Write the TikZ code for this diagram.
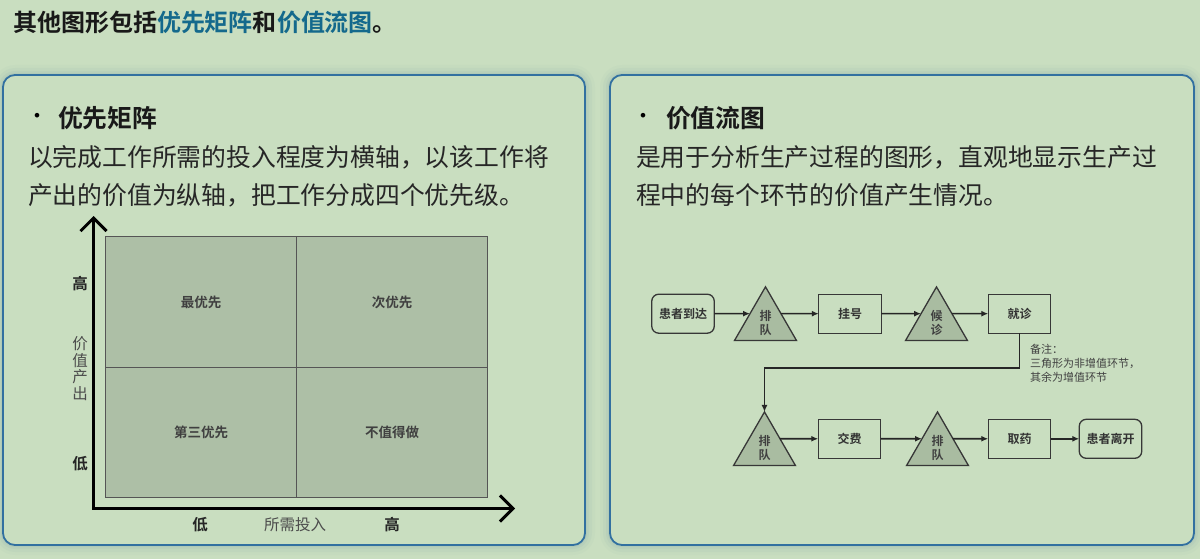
\documentclass[tikz,border=0pt]{standalone}
\usepackage{fontspec}
\setmainfont{Noto Sans CJK SC}[BoldFont={Noto Sans CJK SC Bold}]
\usepackage{xcolor}
\usepackage{tikz}
\usetikzlibrary{shapes.geometric, arrows.meta}

\definecolor{bgGreen}{RGB}{201,222,192}
\definecolor{shadeBlue}{RGB}{110,150,165}
\definecolor{panelBlue}{RGB}{50,112,160}
\definecolor{titleBlue}{RGB}{20,105,140}
\definecolor{cellFill}{RGB}{173,191,166}
\definecolor{triFill}{RGB}{169,188,161}
\definecolor{lineGray}{RGB}{55,55,55}

\begin{document}
\begin{tikzpicture}[x=1pt, y=-1pt,
		    every node/.style={inner sep=0pt, outer sep=0pt},
		    panel/.style={draw=panelBlue, line width=1.8pt, rounded corners=12pt, fill=bgGreen},
		    body/.style={anchor=west, font=\fontsize{24.8}{24.8}\selectfont, text=black!85},
		    head/.style={anchor=west, font=\fontsize{24.8}{24.8}\selectfont\bfseries, text=black!90}
		]
		\tikzset{
		    cell/.style={draw=lineGray!85, line width=0.9pt, fill=cellFill, minimum width=191.3pt, minimum height=130.8pt, font=\fontsize{13.5}{13.5}\selectfont\bfseries, text=black!75},
		    axis/.style={line width=3pt, {Straight Barb[length=13pt, width=26pt]}-{Straight Barb[length=13pt, width=26pt]}},
		    axlabel/.style={font=\fontsize{15.5}{16.8}\selectfont\bfseries, text=black!85},
		    axname/.style={font=\fontsize{15.5}{16.8}\selectfont, text=black!70, align=center},
		    procbox/.style={draw=lineGray, line width=1.3pt, minimum width=62.5pt, minimum height=39pt, font=\fontsize{12}{12}\selectfont\bfseries, text=black!80},
		    endbox/.style={procbox, rounded corners=7pt},
		    waitq/.style={regular polygon, regular polygon sides=3, minimum size=71pt, draw=lineGray, line width=1.3pt, fill=triFill, font=\fontsize{12}{14}\selectfont\bfseries, text=black!75, align=center},
		    flow/.style={-{Latex[length=7pt, width=6pt]}, line width=1.6pt, draw=black!85},
		    remark/.style={anchor=north west, align=left, font=\fontsize{11}{14}\selectfont, text=black!75}
		}
		% background and panels
		\fill[bgGreen] (0,0) rectangle (1200,559);
		\useasboundingbox (0,0) rectangle (1200,559);
		\foreach \d/\o in {10/0.04, 7/0.06, 4/0.08, 2/0.10} {
		    \fill[shadeBlue, opacity=\o, rounded corners=12pt+\d pt] (3-\d,75-\d) rectangle (585+\d,545+\d);
		    \fill[shadeBlue, opacity=\o, rounded corners=12pt+\d pt] (610-\d,75-\d) rectangle (1194+\d,545+\d);
		}
		\draw[panel] (3,75) rectangle (585,545);
		\draw[panel] (610,75) rectangle (1194,545);

		% title
		\node[anchor=west, font=\fontsize{24}{24}\selectfont\bfseries, text=black!90] (title) at (13,22)
		    {其他图形包括\textcolor{titleBlue}{优先矩阵}和\textcolor{titleBlue}{价值流图}。};

		% left panel text
		\node[anchor=west, font=\fontsize{18}{18}\selectfont\bfseries] (dotL) at (28,118) {•};
		\node[head] (headL) at (58,118) {优先矩阵};
		\node[body] (lineL1) at (28,157) {以完成工作所需的投入程度为横轴，以该工作将};
		\node[body] (lineL2) at (28,195) {产出的价值为纵轴，把工作分成四个优先级。};

		% priority matrix
		\node[cell] (best) at (201,302.1) {最优先};
		\node[cell] (second) at (392.2,302.1) {次优先};
		\node[cell] (third) at (201,432.5) {第三优先};
		\node[cell] (skip) at (392.2,432.5) {不值得做};
		\coordinate (origin) at (93.5,508.5);
		\coordinate (ytip) at (93.5,216);
		\coordinate (xtip) at (515,508.5);
		\draw[axis] (ytip) -- (origin) -- (xtip);
		\node[axlabel] (yhigh) at (80,283.5) {高};
		\node[axname] (yname) at (80,368.5) {价\\值\\产\\出};
		\node[axlabel] (ylow) at (80,463.5) {低};
		\node[axlabel] (xlow) at (200,525) {低};
		\node[axname] (xname) at (295,525) {所需投入};
		\node[axlabel] (xhigh) at (392,525) {高};

		% right panel text
		\node[anchor=west, font=\fontsize{18}{18}\selectfont\bfseries] (dotR) at (634,118) {•};
		\node[head] (headR) at (666,118) {价值流图};
		\node[body] (lineR1) at (636,157) {是用于分析生产过程的图形，直观地显示生产过};
		\node[body] (lineR2) at (636,195) {程中的每个环节的价值产生情况。};

		% value stream map
		\node[endbox] (arrive) at (683,313.7) {患者到达};
		\node[waitq] (queue1) at (765.5,322.6) {排\\队};
		\node[procbox] (register) at (850,313.7) {挂号};
		\node[waitq] (queue2) at (936.5,322.6) {候\\诊};
		\node[procbox] (visit) at (1019.5,313.7) {就诊};
		\node[waitq] (queue3) at (764.5,447.7) {排\\队};
		\node[procbox] (pay) at (849.5,438.8) {交费};
		\node[waitq] (queue4) at (937.5,447.7) {排\\队};
		\node[procbox] (drug) at (1019.5,438.8) {取药};
		\node[endbox] (leave) at (1110.5,438.8) {患者离开};
		\node[remark] (note) at (1030,344) {备注：\\三角形为非增值环节，\\其余为增值环节};

		\draw[flow] (arrive) -- (queue1.side 1);
		\draw[flow] (queue1.side 3) -- (register);
		\draw[flow] (register) -- (queue2.side 1);
		\draw[flow] (queue2.side 3) -- (visit);
		\draw[flow] (visit.south) -- ++(0,35) -| (queue3.corner 1);
		\draw[flow] (queue3.side 3) -- (pay);
		\draw[flow] (pay) -- (queue4.side 1);
		\draw[flow] (queue4.side 3) -- (drug);
		\draw[flow] (drug) -- (leave);
\end{tikzpicture}
\end{document}
